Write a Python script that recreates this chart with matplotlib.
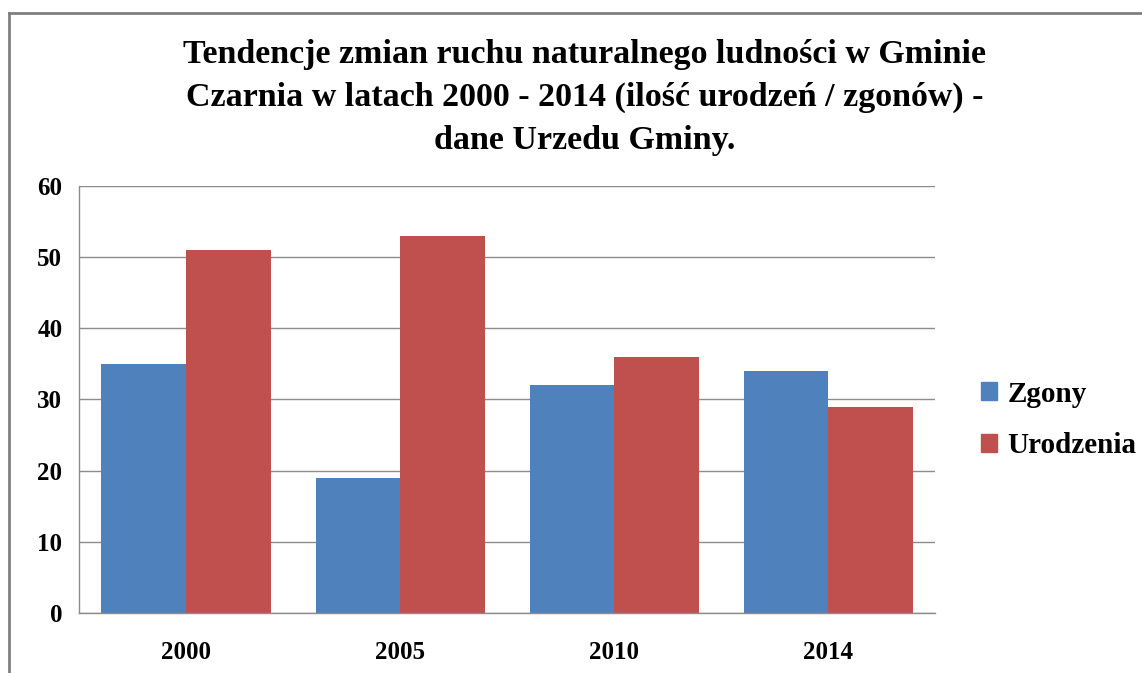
import matplotlib.pyplot as plt
import numpy as np
from matplotlib.patches import Rectangle
from matplotlib.lines import Line2D

years = ['2000', '2005', '2010', '2014']
zgony = [35, 19, 32, 34]
urodzenia = [51, 53, 36, 29]
series_names = ['Zgony', 'Urodzenia']
colors = ['#4F81BD', '#C0504D']

plt.rcParams['font.family'] = ['Liberation Serif', 'DejaVu Serif']
plt.rcParams['font.weight'] = 'bold'

fig = plt.figure(figsize=(11.42, 6.73), dpi=100)
ax = fig.add_axes([0.0692, 0.0892, 0.7496, 0.6344])

x = np.arange(len(years))
w = 0.395
ax.bar(x - w / 2, zgony, w, color=colors[0], label=series_names[0])
ax.bar(x + w / 2, urodzenia, w, color=colors[1], label=series_names[1])

ax.set_xlim(-0.5, len(years) - 0.5)
ax.set_ylim(0, 60)
ax.set_yticks(range(0, 61, 10))
ax.set_xticks(x)
ax.set_xticklabels(years)
ax.tick_params(axis='both', length=0, labelsize=18)
ax.tick_params(axis='x', pad=20)
ax.tick_params(axis='y', pad=12)
for lab in ax.get_xticklabels() + ax.get_yticklabels():
    lab.set_fontweight('bold')

ax.yaxis.grid(True, color='#8c8c8c', linewidth=1)
ax.set_axisbelow(True)
for side in ['top', 'right']:
    ax.spines[side].set_visible(False)
for side in ['left', 'bottom']:
    ax.spines[side].set_color('#8c8c8c')
    ax.spines[side].set_linewidth(1)

fig.text(0.512, 0.855,
         'Tendencje zmian ruchu naturalnego ludności w Gminie\n'
         'Czarnia w latach 2000 - 2014 (ilość urodzeń / zgonów) -\n'
         'dane Urzedu Gminy.',
         ha='center', va='center', fontsize=24.5, fontweight='bold',
         linespacing=1.5)

handles = [Rectangle((0, 0), 1, 1, color=c) for c in colors]
fig.legend(handles, series_names, loc='center left',
           bbox_to_anchor=(0.836, 0.376), frameon=False, fontsize=21,
           handlelength=0.55, handleheight=0.55, labelspacing=0.85,
           handletextpad=0.35)

# outer chart frame (only top and left edges are visible)
fig.add_artist(Line2D([0.0075, 0.0075], [0.0, 0.981], color='#808080',
                      linewidth=2, transform=fig.transFigure))
fig.add_artist(Line2D([0.0075, 1.0], [0.981, 0.981], color='#808080',
                      linewidth=2, transform=fig.transFigure))

fig.savefig('out.png', dpi=100)
